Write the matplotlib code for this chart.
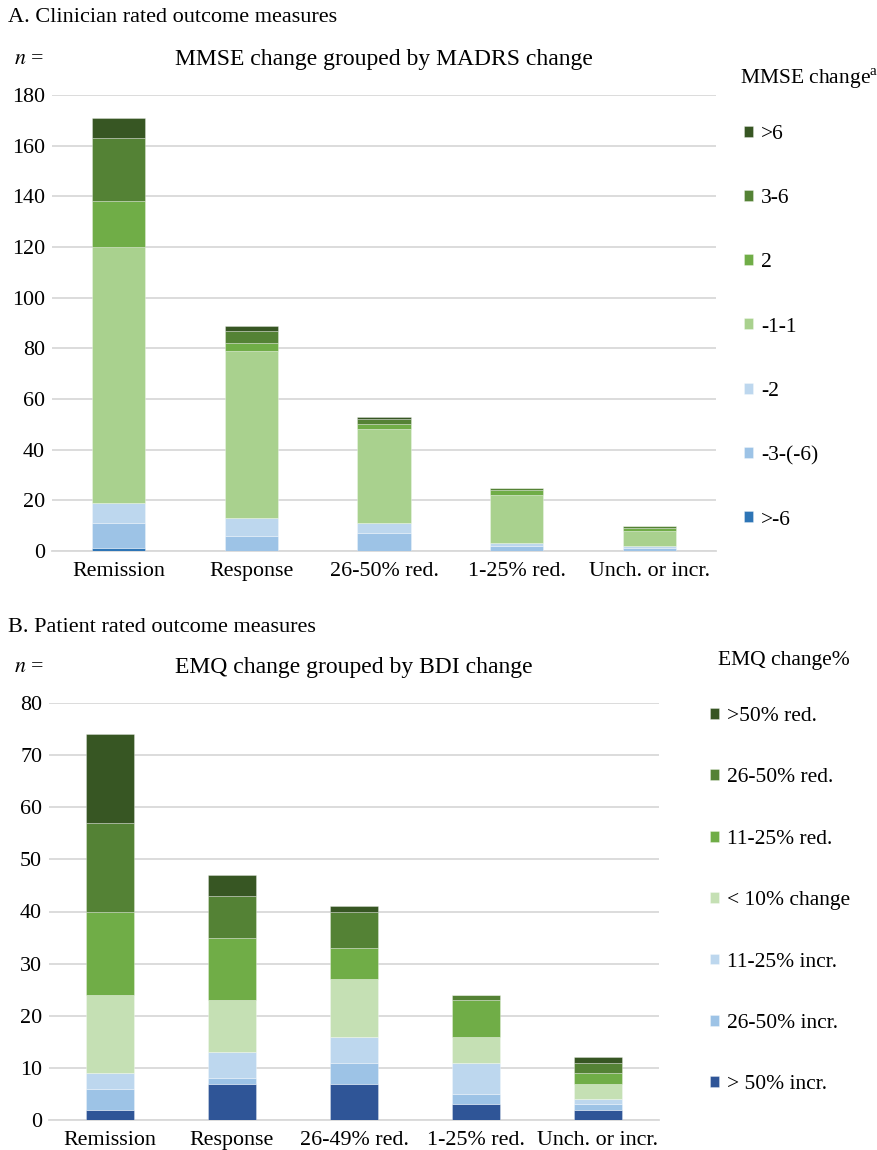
# Stacked bar charts: MMSE change by MADRS change, EMQ change by BDI change

import numpy as np
import matplotlib
matplotlib.use('Agg')
import matplotlib.pyplot as plt

plt.rcParams['font.family'] = ['Liberation Serif', 'DejaVu Serif']
plt.rcParams['mathtext.fontset'] = 'stix'
FS = 15.8
FT = 17

# Panel A data (counts per MMSE change category, bottom to top)
cats_a = ['Remission', 'Response', '26-50% red.', '1-25% red.', 'Unch. or incr.']
labels_a = ['>-6', '-3-(-6)', '-2', '-1-1', '2', '3-6', '>6']
colors_a = ['#2E75B6', '#9DC3E6', '#BDD7EE', '#A9D18E', '#70AD47', '#548235', '#375623']
mmse_gt_m6 = [1, 0, 0, 0, 0]
mmse_m3_m6 = [10, 6, 7, 2, 1]
mmse_m2 = [8, 7, 4, 1, 1]
mmse_m1_1 = [101, 66, 37, 19, 6]
mmse_2 = [18, 3, 2, 2, 1]
mmse_3_6 = [25, 5, 2, 1, 1]
mmse_gt6 = [8, 2, 1, 0, 0]
series_a = [mmse_gt_m6, mmse_m3_m6, mmse_m2, mmse_m1_1, mmse_2, mmse_3_6, mmse_gt6]

# Panel B data (counts per EMQ change category, bottom to top)
cats_b = ['Remission', 'Response', '26-49% red.', '1-25% red.', 'Unch. or incr.']
labels_b = ['> 50% incr.', '26-50% incr.', '11-25% incr.', '< 10% change',
            '11-25% red.', '26-50% red.', '>50% red.']
colors_b = ['#2F5597', '#9DC3E6', '#BDD7EE', '#C5E0B4', '#70AD47', '#548235', '#375623']
emq_gt50_incr = [2, 7, 7, 3, 2]
emq_26_50_incr = [4, 1, 4, 2, 1]
emq_11_25_incr = [3, 5, 5, 6, 1]
emq_lt10 = [15, 10, 11, 5, 3]
emq_11_25_red = [16, 12, 6, 7, 2]
emq_26_50_red = [17, 8, 7, 1, 2]
emq_gt50_red = [17, 4, 1, 0, 1]
series_b = [emq_gt50_incr, emq_26_50_incr, emq_11_25_incr, emq_lt10,
            emq_11_25_red, emq_26_50_red, emq_gt50_red]

W, H = 877, 1150
fig = plt.figure(figsize=(W / 100, H / 100), dpi=100)


def px_axes(left, top, right, bottom):
    return fig.add_axes([left / W, 1 - bottom / H, (right - left) / W, (bottom - top) / H])


def stacked(ax, cats, series, labels, colors, ymax, step):
    x = np.arange(len(cats))
    base = np.zeros(len(cats))
    handles = []
    for vals, lab, col in zip(series, labels, colors):
        b = ax.bar(x, vals, 0.4, bottom=base, color=col, edgecolor=(1, 1, 1, 0.35),
                   linewidth=0.6, label=lab, zorder=3)
        base += np.array(vals)
        handles.append(b)
    ax.set_xlim(-0.5, len(cats) - 0.5)
    ax.set_ylim(0, ymax)
    ax.set_yticks(np.arange(0, ymax + 1, step))
    ax.set_xticks(x)
    ax.set_xticklabels(cats, fontsize=FS)
    ax.tick_params(axis='y', labelsize=FS, length=0, pad=5)
    ax.tick_params(axis='x', length=0, pad=8)
    ax.grid(axis='y', color='#d9d9d9', linewidth=1.3, zorder=0)
    for s in ['top', 'right', 'left']:
        ax.spines[s].set_visible(False)
    ax.spines['bottom'].set_color('#d9d9d9')
    ax.spines['bottom'].set_linewidth(1.3)
    return handles


ax_a = px_axes(52, 95, 716, 551)
h_a = stacked(ax_a, cats_a, series_a, labels_a, colors_a, 180, 20)
ax_b = px_axes(49, 703, 659, 1120)
h_b = stacked(ax_b, cats_b, series_b, labels_b, colors_b, 80, 10)

fig.text(8 / W, 1 - 18 / H, 'A. Clinician rated outcome measures', fontsize=16, va='center')
fig.text(14 / W, 1 - 60 / H, '$n$ =', fontsize=FS, va='center')
fig.text(384 / W, 1 - 60 / H, 'MMSE change grouped by MADRS change', fontsize=FT,
         va='center', ha='center')
fig.text(740 / W, 1 - 78 / H, 'MMSE change$^{\\mathregular{a}}$', fontsize=15.5, va='center')

fig.text(8 / W, 1 - 627 / H, 'B. Patient rated outcome measures', fontsize=16, va='center')
fig.text(14 / W, 1 - 667 / H, '$n$ =', fontsize=FS, va='center')
fig.text(354 / W, 1 - 667 / H, 'EMQ change grouped by BDI change', fontsize=FT,
         va='center', ha='center')
fig.text(718 / W, 1 - 660 / H, 'EMQ change%', fontsize=15.5, va='center')

fig.legend(h_a[::-1], labels_a[::-1], loc='upper left', bbox_to_anchor=(744 / W, 1 - 125 / H),
           frameon=False, fontsize=15.5, handlelength=0.4, handleheight=0.4,
           handletextpad=0.4, labelspacing=2.1, borderpad=0, borderaxespad=0)
fig.legend(h_b[::-1], labels_b[::-1], loc='upper left', bbox_to_anchor=(710 / W, 1 - 707 / H),
           frameon=False, fontsize=15.5, handlelength=0.4, handleheight=0.4,
           handletextpad=0.4, labelspacing=1.97, borderpad=0, borderaxespad=0)

fig.savefig('out.png', dpi=100)
